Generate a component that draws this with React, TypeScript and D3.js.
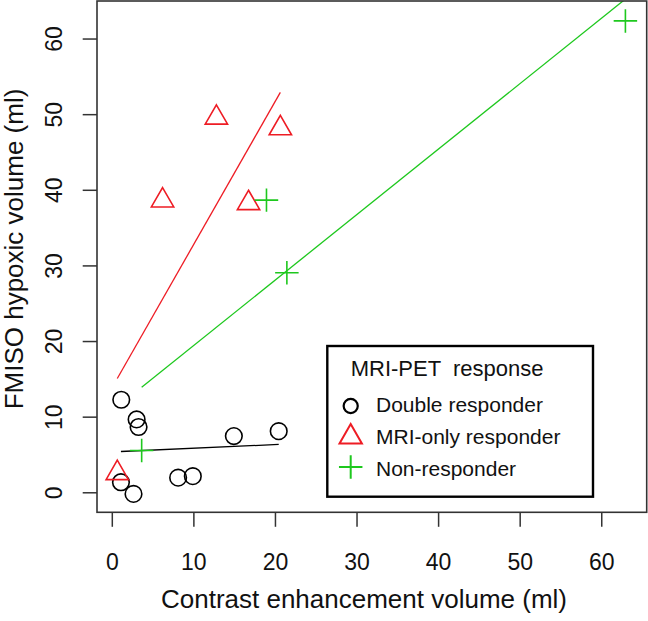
import React from 'react';
import * as d3 from 'd3';

// Double responder (black circles)
const doubleX = [1.1, 2.98, 3.22, 14.9, 20.4, 1.06, 2.6, 8.07, 9.87];
const doubleY = [12.3, 9.7, 8.7, 7.5, 8.15, 1.4, -0.15, 2.0, 2.2];
// MRI-only responder (red triangles)
const mriOnlyX = [0.61, 6.16, 12.76, 16.7, 20.6];
const mriOnlyY = [2.6, 38.65, 49.6, 38.3, 48.2];
// Non-responder (green pluses)
const nonX = [3.6, 18.9, 21.4, 62.9];
const nonY = [5.6, 38.7, 29.1, 62.4];

const xTicks = [0, 10, 20, 30, 40, 50, 60];
const yTicks = [0, 10, 20, 30, 40, 50, 60];

const legendTitle = 'MRI-PET  response';
const legendLabels = ['Double responder', 'MRI-only responder', 'Non-responder'];
const xTitle = 'Contrast enhancement volume (ml)';
const yTitle = 'FMISO hypoxic volume (ml)';

const BLACK = '#000000';
const RED = '#ee1c24';
const GREEN = '#1ec81e';
const FONT = '"Liberation Sans", Arial, sans-serif';

function fitLine(xs: number[], ys: number[]): [number, number][] {
  const n = xs.length;
  const mx = d3.mean(xs)!;
  const my = d3.mean(ys)!;
  let sxy = 0, sxx = 0;
  for (let i = 0; i < n; i++) {
    sxy += (xs[i] - mx) * (ys[i] - my);
    sxx += (xs[i] - mx) ** 2;
  }
  const b = sxy / sxx;
  const a = my - b * mx;
  const x0 = d3.min(xs)!;
  const x1 = d3.max(xs)!;
  return [[x0, a + b * x0], [x1, a + b * x1]];
}

const R = 8.3;
function trianglePath(cx: number, cy: number, rad: number) {
  const r = 1.5551 * rad;
  const xc = 1.3468 * rad;
  const yc = 0.7776 * rad;
  return `M${cx},${cy - r}L${cx + xc},${cy + yc}L${cx - xc},${cy + yc}Z`;
}
function plusPath(cx: number, cy: number, rad: number) {
  const h = Math.SQRT2 * rad;
  return `M${cx - h},${cy}H${cx + h}M${cx},${cy - h}V${cy + h}`;
}

export default function App() {
  const left = 97, right = 646.7, top = 1, bottom = 512.3;
  const x = d3.scaleLinear().domain([-1.876, 65.51]).range([left, right]);
  const y = d3.scaleLinear().domain([-2.58, 65.03]).range([bottom, top]);
  const line = d3.line<[number, number]>().x(d => x(d[0])).y(d => y(d[1]));

  const lgX = 327.3, lgY = 346, lgW = 265.7, lgH = 150.7;
  const symX = 350.7;
  const textX = 376;
  const rowSym = [406, 437, 467];
  const rowBase = [411.7, 444, 476];

  return (
    <svg width={648} height={621} style={{ position: 'absolute', left: 0, top: 0, background: '#fff' }}>
      <rect x={0} y={0} width={648} height={621} fill="#fff" />
      <defs>
        <clipPath id="plotclip">
          <rect x={left} y={top} width={right - left} height={bottom - top} />
        </clipPath>
      </defs>

      {/* regression lines */}
      <g clipPath="url(#plotclip)" fill="none" strokeWidth={1.3}>
        <path d={line(fitLine(doubleX, doubleY))!} stroke={BLACK} />
        <path d={line(fitLine(mriOnlyX, mriOnlyY))!} stroke={RED} />
        <path d={line(fitLine(nonX, nonY))!} stroke={GREEN} />
      </g>

      {/* points */}
      <g fill="none" strokeWidth={1.6}>
        {doubleX.map((v, i) => (
          <circle key={'c' + i} cx={x(v)} cy={y(doubleY[i])} r={R} stroke={BLACK} />
        ))}
        {mriOnlyX.map((v, i) => (
          <path key={'t' + i} d={trianglePath(x(v), y(mriOnlyY[i]), R)} stroke={RED} />
        ))}
        {nonX.map((v, i) => (
          <path key={'p' + i} d={plusPath(x(v), y(nonY[i]), R)} stroke={GREEN} />
        ))}
      </g>

      {/* box */}
      <rect x={left} y={top} width={right - left} height={bottom - top} fill="none" stroke="#333" strokeWidth={1.6} />

      {/* x axis ticks */}
      <g stroke="#333" strokeWidth={1.5}>
        {xTicks.map(t => (
          <line key={'xt' + t} x1={x(t)} x2={x(t)} y1={bottom} y2={bottom + 14.5} />
        ))}
        {yTicks.map(t => (
          <line key={'yt' + t} x1={left - 14.3} x2={left} y1={y(t)} y2={y(t)} />
        ))}
      </g>
      <g fontFamily={FONT} fontSize={23} fill="#111">
        {xTicks.map(t => (
          <text key={'xl' + t} x={x(t)} y={570} textAnchor="middle">{t}</text>
        ))}
        {yTicks.map(t => (
          <text key={'yl' + t} transform={`translate(61.7,${y(t)}) rotate(-90)`} textAnchor="middle">{t}</text>
        ))}
      </g>

      {/* axis titles */}
      <text x={364} y={608} textAnchor="middle" fontFamily={FONT} fontSize={26} fill="#111" style={{ whiteSpace: 'pre' }}>{xTitle}</text>
      <text transform={`translate(22.7,249) rotate(-90)`} textAnchor="middle" fontFamily={FONT} fontSize={26} fill="#111" style={{ whiteSpace: 'pre' }}>{yTitle}</text>

      {/* legend */}
      <rect x={lgX} y={lgY} width={lgW} height={lgH} fill="#fff" stroke="#000" strokeWidth={2.4} />
      <text x={350.7} y={376} fontFamily={FONT} fontSize={22} fill="#111" style={{ whiteSpace: 'pre' }}>{legendTitle}</text>
      <g fill="none" strokeWidth={1.8}>
        <circle cx={symX} cy={rowSym[0]} r={R * 0.85} stroke={BLACK} strokeWidth={2.2} />
        <path d={trianglePath(symX, rowSym[1], R)} stroke={RED} strokeWidth={2} />
        <path d={plusPath(symX, rowSym[2], R)} stroke={GREEN} strokeWidth={2} />
      </g>
      <g fontFamily={FONT} fontSize={21} fill="#111">
        {legendLabels.map((l, i) => (
          <text key={l} x={textX} y={rowBase[i]}>{l}</text>
        ))}
      </g>
    </svg>
  );
}
